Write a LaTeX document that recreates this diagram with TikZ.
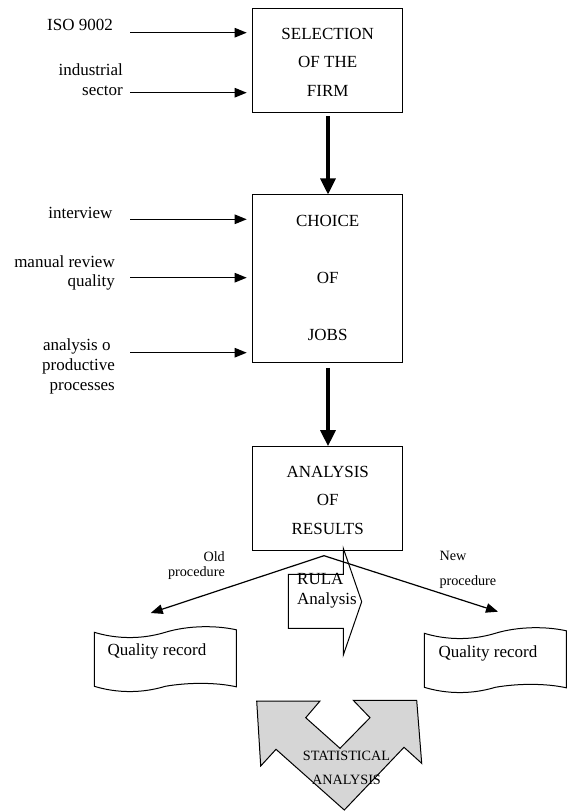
\documentclass[tikz,border=0pt]{standalone}
\usepackage{fontspec}
\setmainfont{Liberation Serif}
\usetikzlibrary{arrows.meta}
\definecolor{statgray}{RGB}{214,214,214}
\tikzset{
  big/.style={font=\fontsize{17}{19.7}\selectfont},
  small/.style={font=\fontsize{14.2}{15.7}\selectfont},
  stepbox/.style={draw, line width=1pt, minimum width=150pt, inner sep=0pt, align=center, text depth=0pt},
  lbl/.style={big, inner sep=0pt, align=right, anchor=base east},
  feed/.style={-{Triangle[length=12pt,width=9.5pt]}, line width=1.2pt},
  flow/.style={-{Triangle[length=16pt,width=15pt]}, line width=3.2pt},
  outline/.style={line width=1pt, line join=miter},
  record/.pic={
    \draw[outline] (0,0) .. controls (23,7) and (48,7) .. (71,0)
      .. controls (94,-7) and (122,-7) .. (142,-2.5)
      -- (142,54.5)
      .. controls (122,50) and (94,50) .. (71,54)
      .. controls (48,61) and (23,61) .. (0,54) -- cycle;
  },
}
\begin{document}
\begin{tikzpicture}[x=1pt,y=-1pt]
\useasboundingbox (0,0) rectangle (572,811);

% main boxes
\node[stepbox, minimum height=104pt, text height=71.4pt, font=\fontsize{17}{28.4}\selectfont] (sel) at (327.7,60.3) {SELECTION\\OF THE\\FIRM};
\node[stepbox, minimum height=167.7pt, text height=122.4pt, font=\fontsize{17}{56.7}\selectfont] (cho) at (327.7,278.8) {CHOICE\\OF\\JOBS};
\node[stepbox, minimum height=104.3pt, text height=70.4pt, font=\fontsize{17}{28.4}\selectfont] (res) at (327.7,498.8) {ANALYSIS\\OF\\RESULTS};

\draw[flow, shorten <=3.4pt] (sel.south -| 328,0) -- (cho.north -| 328,0);
\draw[flow, shorten <=4.6pt] (cho.south -| 328,0) -- (res.north -| 328,0);

% inputs (anchor base = baseline of the last line)
\node[lbl] (iso) at (113,30) {ISO 9002};
\node[lbl] (ind) at (123,95) {industrial\\sector};
\node[lbl] (int) at (112.7,218.3) {interview};
\node[lbl] (man) at (115,286.7) {manual review\\quality};
\node[lbl] (ana) at (115,390) {analysis o\phantom{\ }\\productive\\processes};

\coordinate (isoS) at (130,32.7);
\coordinate (indS) at (130,92.7);
\coordinate (intS) at (130,219.3);
\coordinate (manS) at (130,277.7);
\coordinate (anaS) at (130,352.7);
\draw[feed, shorten >=5.5pt] (isoS) -- (isoS -| sel.west);
\draw[feed, shorten >=5.5pt] (indS) -- (indS -| sel.west);
\draw[feed, shorten >=5.5pt] (intS) -- (intS -| cho.west);
\draw[feed, shorten >=5.5pt] (manS) -- (manS -| cho.west);
\draw[feed, shorten >=5.5pt] (anaS) -- (anaS -| cho.west);

% split to old / new procedure
\coordinate (split) at (324,555.7);
\coordinate (oldEnd) at (150.7,613);
\coordinate (newEnd) at (498,611.7);
\draw[feed] (split) -- (oldEnd);
\draw[feed] (split) -- (newEnd);
\node[small, inner sep=0pt, align=right, anchor=base east] (old) at (225,576.7) {Old\\procedure};
\node[font=\fontsize{14.2}{25.7}\selectfont, inner sep=0pt, align=left, anchor=base west] (new) at (439.3,585.7) {New\\procedure};

% RULA block arrow
\draw[outline] (288.3,574.3) -- (343.3,574.3) -- (343.3,548.3) -- (361.7,601.7)
  -- (343.3,655) -- (343.3,628.3) -- (288.3,628.3) -- cycle;
\node[big, inner sep=0pt, align=left, anchor=base west] (rula) at (297,604) {RULA\\Analysis};

% quality records
\pic at (94.3,632.3) {record};
\pic at (424.3,633.3) {record};
\node[big, inner sep=0pt, anchor=base] (recL) at (157,655.5) {Quality record};
\node[big, inner sep=0pt, anchor=base] (recR) at (488,657) {Quality record};

% statistical analysis
\filldraw[outline, fill=statgray] (256.7,701) -- (320,701) -- (305.7,717.7) -- (340,748.3)
  -- (370,717.7) -- (353.3,700.3) -- (416.7,700.3) -- (421.7,763.3) -- (404,747.3)
  -- (344.3,810) -- (276,749.3) -- (260.7,766) -- cycle;
\node[font=\fontsize{14.2}{24}\selectfont, inner sep=0pt, align=center, anchor=base] (stat) at (346.5,784) {STATISTICAL\\ANALYSIS};
\end{tikzpicture}
\end{document}
